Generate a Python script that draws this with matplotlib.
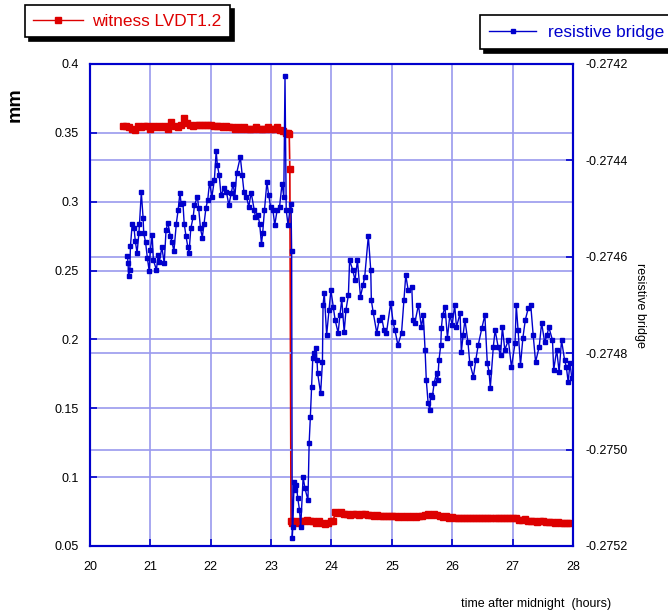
import matplotlib
matplotlib.use("Agg")
import matplotlib.pyplot as plt
from matplotlib.lines import Line2D
from matplotlib.ticker import FuncFormatter

plt.rcParams['font.family'] = ['Liberation Sans', 'DejaVu Sans']

# witness LVDT1.2, mm (left axis)
rt = [20.55, 20.60, 20.65, 20.70, 20.75, 20.80, 20.85, 20.90, 20.95, 21.00,
      21.05, 21.10, 21.15, 21.20, 21.25, 21.30, 21.35, 21.40, 21.45, 21.50,
      21.55, 21.60, 21.65, 21.70, 21.75, 21.80, 21.85, 21.90, 21.95, 22.00,
      22.05, 22.10, 22.15, 22.20, 22.25, 22.30, 22.35, 22.40, 22.45, 22.50,
      22.55, 22.60, 22.65, 22.70, 22.75, 22.80, 22.85, 22.90, 22.95, 23.00,
      23.05, 23.10, 23.15, 23.20, 23.25, 23.28, 23.30, 23.31, 23.33,
      23.35, 23.40, 23.45, 23.50, 23.55, 23.60, 23.65, 23.70, 23.75, 23.80,
      23.85, 23.90, 23.95, 24.00, 24.03, 24.06, 24.10, 24.15, 24.20, 24.25,
      24.30, 24.35, 24.40, 24.45, 24.50, 24.55, 24.60, 24.65, 24.70, 24.75,
      24.80, 24.85, 24.90, 24.95, 25.00, 25.05, 25.10, 25.15, 25.20, 25.25,
      25.30, 25.35, 25.40, 25.45, 25.50, 25.55, 25.60, 25.65, 25.70, 25.75,
      25.80, 25.85, 25.90, 25.95, 26.00, 26.05, 26.10, 26.15, 26.20, 26.25,
      26.30, 26.35, 26.40, 26.45, 26.50, 26.55, 26.60, 26.65, 26.70, 26.75,
      26.80, 26.85, 26.90, 26.95, 27.00, 27.05, 27.10, 27.15, 27.20, 27.25,
      27.30, 27.35, 27.40, 27.45, 27.50, 27.55, 27.60, 27.65, 27.70, 27.75,
      27.80, 27.85, 27.90, 27.95]
rv = [0.355, 0.355, 0.354, 0.353, 0.352, 0.355, 0.354, 0.355, 0.355, 0.353,
      0.355, 0.354, 0.355, 0.354, 0.355, 0.353, 0.358, 0.355, 0.354, 0.356,
      0.361, 0.357, 0.356, 0.355, 0.356, 0.356, 0.356, 0.356, 0.356, 0.356,
      0.355, 0.355, 0.355, 0.354, 0.355, 0.354, 0.354, 0.353, 0.354, 0.353,
      0.354, 0.353, 0.353, 0.353, 0.354, 0.353, 0.353, 0.353, 0.354, 0.353,
      0.353, 0.354, 0.352, 0.351, 0.350, 0.350, 0.349, 0.324, 0.068,
      0.067, 0.068, 0.067, 0.068, 0.068, 0.069, 0.068, 0.068, 0.067, 0.068,
      0.067, 0.066, 0.067, 0.068, 0.068, 0.075, 0.074, 0.0745, 0.073, 0.073,
      0.0725, 0.073, 0.073, 0.0725, 0.073, 0.073, 0.0725, 0.0725, 0.072, 0.0725,
      0.072, 0.072, 0.0715, 0.072, 0.0715, 0.0715, 0.071, 0.0715, 0.071, 0.0715,
      0.071, 0.0715, 0.071, 0.0715, 0.072, 0.0725, 0.073, 0.0725, 0.073, 0.0725,
      0.072, 0.071, 0.0715, 0.0705, 0.071, 0.0705, 0.0705, 0.070, 0.0705, 0.070,
      0.0705, 0.070, 0.0705, 0.070, 0.0705, 0.070, 0.0705, 0.0705, 0.070, 0.0705,
      0.0705, 0.070, 0.070, 0.0705, 0.0705, 0.070, 0.069, 0.069, 0.0695, 0.0685,
      0.0685, 0.068, 0.0675, 0.068, 0.068, 0.0675, 0.0675, 0.0675, 0.067, 0.0675,
      0.067, 0.067, 0.067, 0.0665]

# resistive bridge (right axis)
bt = [20.62, 20.63, 20.64, 20.66, 20.67, 20.70, 20.73, 20.75, 20.78, 20.81,
      20.82, 20.85, 20.88, 20.89, 20.92, 20.95, 20.98, 21.00, 21.03, 21.05,
      21.10, 21.13, 21.15, 21.19, 21.23, 21.26, 21.29, 21.33, 21.36, 21.39,
      21.43, 21.46, 21.49, 21.51, 21.54, 21.56, 21.59, 21.62, 21.64, 21.67,
      21.71, 21.73, 21.78, 21.80, 21.83, 21.86, 21.89, 21.92, 21.95, 21.98,
      22.02, 22.06, 22.09, 22.11, 22.14, 22.17, 22.22, 22.26, 22.30, 22.34,
      22.37, 22.40, 22.43, 22.49, 22.52, 22.55, 22.59, 22.63, 22.67, 22.72,
      22.74, 22.78, 22.81, 22.84, 22.86, 22.89, 22.93, 22.96, 22.99, 23.03,
      23.06, 23.10, 23.14, 23.18, 23.21, 23.23, 23.25, 23.28, 23.31, 23.33,
      23.34, 23.35, 23.36, 23.38, 23.39, 23.42, 23.44, 23.47, 23.49, 23.53,
      23.56, 23.61, 23.63, 23.65, 23.67, 23.69, 23.71, 23.74, 23.76, 23.77,
      23.82, 23.85, 23.86, 23.88, 23.92, 23.96, 23.99, 24.03, 24.06, 24.11,
      24.14, 24.17, 24.21, 24.24, 24.28, 24.30, 24.35, 24.39, 24.43, 24.48,
      24.52, 24.55, 24.61, 24.65, 24.66, 24.69, 24.75, 24.79, 24.83, 24.87,
      24.91, 24.98, 25.02, 25.05, 25.10, 25.16, 25.20, 25.23, 25.27, 25.33,
      25.35, 25.38, 25.44, 25.49, 25.52, 25.55, 25.57, 25.60, 25.63, 25.64,
      25.67, 25.70, 25.74, 25.76, 25.78, 25.81, 25.82, 25.84, 25.88, 25.92,
      25.96, 26.00, 26.04, 26.07, 26.13, 26.15, 26.18, 26.21, 26.26, 26.29,
      26.35, 26.39, 26.43, 26.49, 26.54, 26.58, 26.61, 26.63, 26.68, 26.71,
      26.76, 26.80, 26.83, 26.87, 26.93, 26.98, 27.04, 27.06, 27.09, 27.13,
      27.17, 27.21, 27.26, 27.30, 27.34, 27.38, 27.44, 27.48, 27.53, 27.57,
      27.60, 27.66, 27.68, 27.73, 27.77, 27.81, 27.86, 27.89, 27.92, 27.95,
      27.98]
bv = [-0.274598, -0.274613, -0.274639, -0.274627, -0.274578, -0.274531, -0.274540, -0.274567, -0.274592, -0.274551,
      -0.274532, -0.274466, -0.274520, -0.274551, -0.274569, -0.274602, -0.274629, -0.274586, -0.274555, -0.274607,
      -0.274627, -0.274596, -0.274610, -0.274580, -0.274613, -0.274544, -0.274529, -0.274557, -0.274569, -0.274589,
      -0.274531, -0.274503, -0.274467, -0.274491, -0.274489, -0.274531, -0.274557, -0.274579, -0.274592, -0.274541,
      -0.274517, -0.274493, -0.274475, -0.274499, -0.274541, -0.274560, -0.274531, -0.274499, -0.274482, -0.274446,
      -0.274475, -0.274441, -0.274381, -0.274410, -0.274430, -0.274472, -0.274458, -0.274465, -0.274493, -0.274468,
      -0.274448, -0.274475, -0.274426, -0.274393, -0.274430, -0.274465, -0.274475, -0.274496, -0.274467, -0.274503,
      -0.274517, -0.274513, -0.274531, -0.274574, -0.274551, -0.274503, -0.274445, -0.274472, -0.274496, -0.274503,
      -0.274534, -0.274503, -0.274496, -0.274449, -0.274475, -0.274225, -0.274503, -0.274534, -0.274503, -0.274490,
      -0.274589, -0.275183, -0.275161, -0.275067, -0.275084, -0.275073, -0.275100, -0.275125, -0.275161, -0.275057,
      -0.275080, -0.275105, -0.274986, -0.274932, -0.274870, -0.274810, -0.274800, -0.274789, -0.274814, -0.274841,
      -0.274883, -0.274818, -0.274700, -0.274675, -0.274762, -0.274710, -0.274669, -0.274704, -0.274731, -0.274758,
      -0.274721, -0.274688, -0.274756, -0.274710, -0.274679, -0.274607, -0.274627, -0.274648, -0.274607, -0.274683,
      -0.274659, -0.274642, -0.274557, -0.274627, -0.274690, -0.274715, -0.274758, -0.274731, -0.274725, -0.274752,
      -0.274758, -0.274696, -0.274735, -0.274752, -0.274783, -0.274758, -0.274690, -0.274638, -0.274669, -0.274663,
      -0.274731, -0.274737, -0.274700, -0.274746, -0.274721, -0.274793, -0.274856, -0.274903, -0.274918, -0.274887,
      -0.274891, -0.274862, -0.274841, -0.274856, -0.274814, -0.274783, -0.274748, -0.274721, -0.274704, -0.274768,
      -0.274721, -0.274741, -0.274700, -0.274746, -0.274717, -0.274798, -0.274762, -0.274731, -0.274777, -0.274820,
      -0.274849, -0.274814, -0.274783, -0.274748, -0.274721, -0.274820, -0.274839, -0.274872, -0.274787, -0.274752,
      -0.274787, -0.274804, -0.274746, -0.274793, -0.274773, -0.274829, -0.274779, -0.274700, -0.274752, -0.274825,
      -0.274768, -0.274731, -0.274706, -0.274700, -0.274762, -0.274818, -0.274787, -0.274737, -0.274777, -0.274762,
      -0.274746, -0.274773, -0.274835, -0.274793, -0.274839, -0.274773, -0.274814, -0.274829, -0.274860, -0.274820,
      -0.274852]

xticks = [20, 21, 22, 23, 24, 25, 26, 27, 28]
lticks = [0.05, 0.1, 0.15, 0.2, 0.25, 0.3, 0.35, 0.4]
rticks = [-0.2752, -0.275, -0.2748, -0.2746, -0.2744, -0.2742]

RED = '#dd0000'
BLUE = '#0000cc'
GRID = '#9a9aee'

fig = plt.figure(figsize=(6.68, 6.13), dpi=100)
ax = fig.add_axes([0.1347, 0.1093, 0.7231, 0.7863])
ax2 = ax.twinx()

ax.plot(rt, rv, '-s', color=RED, ms=3.8, lw=1.2)
ax2.plot(bt, bv, '-s', color=BLUE, ms=3.4, lw=1)

ax.set_xlim(20, 28)
ax.set_ylim(0.05, 0.4)
ax2.set_ylim(-0.2752, -0.2742)
ax.set_xticks(xticks)
ax.set_yticks(lticks)
ax2.set_yticks(rticks)
ax.yaxis.set_major_formatter(FuncFormatter(lambda v, p: '%g' % v))
ax2.yaxis.set_major_formatter(FuncFormatter(lambda v, p: '%.4f' % v))

ax.set_axisbelow(True)
ax2.set_axisbelow(True)
ax.grid(True, color=GRID, lw=1.2)
ax2.grid(True, axis='y', color=GRID, lw=1.2)

for a in (ax, ax2):
    for s in a.spines.values():
        s.set_color(BLUE)
        s.set_linewidth(1.5)
ax.tick_params(axis='both', direction='in', length=5, width=1.2, color=BLUE,
               labelsize=9, labelcolor='black')
ax.tick_params(axis='x', pad=11)
ax.tick_params(axis='y', pad=8)
ax2.tick_params(axis='y', direction='in', length=5, width=1.2, color=BLUE,
                labelsize=9, labelcolor='black', pad=9)

shadow = {'facecolor': 'black', 'edgecolor': 'black', 'alpha': 1, 'ox': 3, 'oy': -3}
leg1 = fig.legend(handles=[Line2D([], [], color=RED, marker='s', ms=4, lw=1)],
                  labels=['witness LVDT1.2'], loc='upper left',
                  bbox_to_anchor=(0.037, 0.992), borderaxespad=0, fontsize=12.4,
                  labelcolor=RED, fancybox=False, edgecolor='black', framealpha=1,
                  shadow=shadow, handlelength=2.9, borderpad=0.5, handletextpad=0.5)
leg1.get_frame().set_linewidth(1.2)
leg2 = fig.legend(handles=[Line2D([], [], color=BLUE, marker='s', ms=3, lw=1)],
                  labels=['resistive bridge'], loc='upper left',
                  bbox_to_anchor=(0.7186, 0.9755), borderaxespad=0, fontsize=12.4,
                  labelcolor=BLUE, fancybox=False, edgecolor='black', framealpha=1,
                  shadow=shadow, handlelength=2.7, borderpad=0.55, handletextpad=0.7)
leg2.get_frame().set_linewidth(1.2)

fig.text(0.022, 1 - 105 / 613, 'mm', rotation=90, fontsize=14, fontweight='bold',
         ha='center', va='center')
fig.text(640 / 668, 1 - 305 / 613, 'resistive bridge', rotation=270, fontsize=9,
         ha='center', va='center')
fig.text(536 / 668, 1 - 604 / 613, 'time after midnight  (hours)', fontsize=9,
         ha='center', va='center')

fig.savefig('out.png', dpi=100)
